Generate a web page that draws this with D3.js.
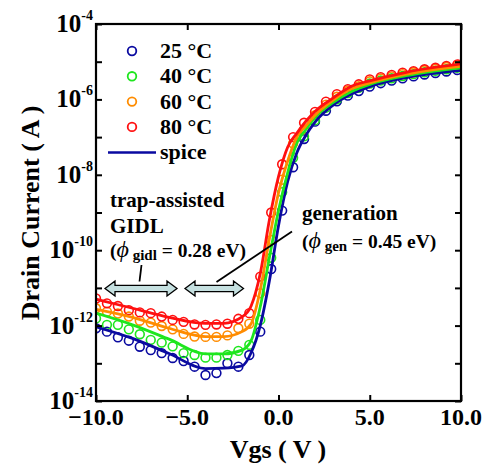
<!DOCTYPE html>
<html><head><meta charset="utf-8">
<script src="https://cdn.jsdelivr.net/npm/d3@7"></script>
<style>body{margin:0;background:#fff}svg{display:block}text{font-family:"Liberation Serif","Times New Roman",serif;font-weight:bold;fill:#000}</style>
</head><body>
<script>
// ---- data (log10 of drain current, A) ----
const vgs = [-10,-9.4,-8.8,-8.2,-7.6,-7.0,-6.4,-5.8,-5.2,-4.6,-4.0,-3.4,-2.8,-2.2,-1.6,-1.0,-0.4,0.2,0.8,1.4,2.0,2.6,3.2,3.8,4.4,5.0,5.6,6.2,6.8,7.4,8.0,8.6,9.2,9.8];
const meas25 = [-12.07,-12.16,-12.31,-12.40,-12.56,-12.65,-12.73,-12.86,-12.94,-13.09,-13.31,-13.26,-13.00,-13.09,-12.78,-12.16,-10.50,-8.95,-7.80,-7.05,-6.59,-6.30,-6.05,-5.90,-5.78,-5.66,-5.57,-5.50,-5.44,-5.39,-5.34,-5.30,-5.26,-5.22];
const meas40 = [-11.81,-11.98,-11.98,-12.10,-12.23,-12.38,-12.45,-12.55,-12.73,-12.78,-12.85,-12.85,-12.78,-12.67,-12.51,-11.85,-10.20,-8.46,-7.55,-6.98,-6.55,-6.22,-6.00,-5.83,-5.69,-5.58,-5.50,-5.44,-5.38,-5.33,-5.28,-5.24,-5.20,-5.16];
const meas60 = [-11.54,-11.63,-11.68,-11.76,-11.87,-11.92,-12.01,-12.10,-12.22,-12.29,-12.30,-12.30,-12.26,-12.07,-11.95,-11.14,-9.73,-8.13,-7.17,-6.80,-6.42,-6.14,-5.93,-5.77,-5.65,-5.52,-5.45,-5.39,-5.33,-5.28,-5.23,-5.19,-5.14,-5.10];
const meas80 = [-11.28,-11.41,-11.48,-11.59,-11.65,-11.67,-11.76,-11.85,-11.90,-11.97,-11.98,-11.97,-11.95,-11.82,-11.67,-10.70,-9.00,-7.72,-7.00,-6.62,-6.33,-6.06,-5.86,-5.73,-5.60,-5.47,-5.41,-5.35,-5.29,-5.25,-5.20,-5.16,-5.11,-5.07];
const spiceV = [-10,-8,-6,-4,-3,-2,-1.5,-1,-0.5,0,0.5,1,1.5,2,3,4,5,7,10];
const spice25 = [-12.03,-12.34,-12.74,-13.14,-13.13,-13.07,-12.72,-12.00,-10.82,-9.35,-8.18,-7.42,-6.95,-6.60,-6.15,-5.86,-5.66,-5.42,-5.23];
const spice40 = [-11.67,-11.98,-12.36,-12.75,-12.75,-12.65,-12.40,-11.50,-10.20,-8.95,-7.95,-7.16,-6.80,-6.48,-6.08,-5.79,-5.60,-5.37,-5.16];
const spice60 = [-11.57,-11.78,-12.07,-12.29,-12.29,-12.16,-11.95,-11.05,-9.70,-8.48,-7.64,-7.00,-6.70,-6.42,-6.02,-5.72,-5.56,-5.33,-5.12];
const spice80 = [-11.30,-11.54,-11.78,-11.94,-11.94,-11.77,-11.48,-10.62,-9.20,-8.05,-7.27,-6.90,-6.58,-6.32,-5.96,-5.65,-5.51,-5.28,-5.06];
const seriesNames = ["25 °C","40 °C","60 °C","80 °C"];
const seriesColors = ["#0a0aa0","#1ee61e","#ff8c00","#ff1010"];
const xTicks = [-10,-5,0,5,10];
const yExps = [-4,-5,-6,-7,-8,-9,-10,-11,-12,-13,-14];
const yLabelExps = [-4,-6,-8,-10,-12,-14];

const W = 483, H = 466;
const svg = d3.select("body").append("svg").attr("width",W).attr("height",H);
const x = d3.scaleLinear().domain([-10,10]).range([96,461]);
const y = d3.scaleLog().domain([1e-14,1e-4]).range([401,24]);
const yl = e => y(Math.pow(10,e));

svg.append("clipPath").attr("id","clip").append("rect")
  .attr("x",96).attr("y",24).attr("width",365).attr("height",377);

const plot = svg.append("g").attr("clip-path","url(#clip)");
const meas = [meas25,meas40,meas60,meas80];
const spice = [spice25,spice40,spice60,spice80];
const line = d3.line().x(d=>x(d[0])).y(d=>yl(d[1])).curve(d3.curveMonotoneX);

meas.forEach((arr,i)=>{
  plot.append("g").selectAll("circle").data(vgs.map((v,j)=>[v,arr[j]])).join("circle")
    .attr("cx",d=>x(d[0])).attr("cy",d=>yl(d[1])).attr("r",4.4)
    .attr("fill","none").attr("stroke",seriesColors[i]).attr("stroke-width",1.6);
});
spice.forEach((arr,i)=>{
  plot.append("path").datum(spiceV.map((v,j)=>[v,arr[j]]))
    .attr("d",line).attr("fill","none").attr("stroke",seriesColors[i]).attr("stroke-width",2.8);
});

// frame
svg.append("rect").attr("x",96).attr("y",24).attr("width",365).attr("height",377)
  .attr("fill","none").attr("stroke","#000").attr("stroke-width",2.2);

// axes
const axB = d3.axisBottom(x).tickValues(xTicks).tickSize(-6).tickFormat("");
svg.append("g").attr("transform","translate(0,401)").call(axB);
const axT = d3.axisTop(x).tickValues(xTicks).tickSize(-6).tickFormat("");
svg.append("g").attr("transform","translate(0,24)").call(axT);
const yTickVals = yExps.map(e=>Math.pow(10,e));
svg.append("g").attr("transform","translate(96,0)").call(d3.axisLeft(y).tickValues(yTickVals).tickSize(-6).tickFormat(""));
svg.append("g").attr("transform","translate(461,0)").call(d3.axisRight(y).tickValues(yTickVals).tickSize(-6).tickFormat(""));
svg.selectAll(".domain").remove();
svg.selectAll(".tick line").attr("stroke","#000").attr("stroke-width",2);

// tick labels
svg.append("g").selectAll("text").data(xTicks).join("text")
  .attr("x",d=>x(d)).attr("y",425).attr("text-anchor","middle").attr("font-size",24)
  .text(d=>d3.format(".1f")(d));
const yLab = svg.append("g").selectAll("text").data(yLabelExps).join("text")
  .attr("x",93).attr("y",d=>yl(d)+8).attr("text-anchor","end").attr("font-size",25);
yLab.append("tspan").text("10");
yLab.append("tspan").attr("font-size",14).attr("dy",-12).text(d=>d);

// axis titles
svg.append("text").attr("x",278).attr("y",458).attr("text-anchor","middle").attr("font-size",26).text("Vgs ( V )");
svg.append("text").attr("transform","translate(39,213) rotate(-90)").attr("text-anchor","middle").attr("font-size",26).text("Drain Current ( A )");

// legend
const leg = svg.append("g");
seriesNames.forEach((n,i)=>{
  const yy = 51 + i*25.3;
  leg.append("circle").attr("cx",132).attr("cy",yy).attr("r",4.3).attr("fill","none")
    .attr("stroke",seriesColors[i]).attr("stroke-width",1.8);
  leg.append("text").attr("x",160).attr("y",yy+7).attr("font-size",22).text(n);
});
leg.append("line").attr("x1",108).attr("x2",156).attr("y1",152.5).attr("y2",152.5)
  .attr("stroke",seriesColors[0]).attr("stroke-width",2.6);
leg.append("text").attr("x",160).attr("y",159).attr("font-size",22).text("spice");

// annotations
const ann = svg.append("g");
ann.append("text").attr("x",110).attr("y",207).attr("font-size",21).text("trap-assisted");
ann.append("text").attr("x",110).attr("y",233).attr("font-size",21).text("GIDL");
const t1 = ann.append("text").attr("x",110).attr("y",257).attr("font-size",19.5);
t1.append("tspan").text("(");
t1.append("tspan").attr("font-style","italic").attr("font-size",24).attr("font-weight","normal").text("ϕ");
t1.append("tspan").attr("font-size",15).attr("dy",3).text(" gidl");
t1.append("tspan").attr("dy",-3).text(" = 0.28 eV)");
ann.append("text").attr("x",302).attr("y",220).attr("font-size",21).text("generation");
const t2 = ann.append("text").attr("x",302).attr("y",248).attr("font-size",19.5);
t2.append("tspan").text("(");
t2.append("tspan").attr("font-style","italic").attr("font-size",24).attr("font-weight","normal").text("ϕ");
t2.append("tspan").attr("font-size",15).attr("dy",3).text(" gen");
t2.append("tspan").attr("dy",-3).text(" = 0.45 eV)");

ann.append("line").attr("x1",141.5).attr("y1",265).attr("x2",139.5).attr("y2",281.5).attr("stroke","#000").attr("stroke-width",1.8);
ann.append("line").attr("x1",216.5).attr("y1",282).attr("x2",292).attr("y2",231.5).attr("stroke","#000").attr("stroke-width",1.8);

function dblArrow(x1,x2,cy){
  const bh=3.2, hh=7.5, hl=10;
  return `M${x1},${cy} L${x1+hl},${cy-hh} L${x1+hl},${cy-bh} L${x2-hl},${cy-bh} L${x2-hl},${cy-hh} L${x2},${cy} L${x2-hl},${cy+hh} L${x2-hl},${cy+bh} L${x1+hl},${cy+bh} L${x1+hl},${cy+hh} Z`;
}
ann.append("path").attr("d",dblArrow(105,177,288.5)).attr("fill","#c5e0e0").attr("stroke","#000").attr("stroke-width",1.3);
ann.append("path").attr("d",dblArrow(185,243.5,288.5)).attr("fill","#c5e0e0").attr("stroke","#000").attr("stroke-width",1.3);
</script>
</body></html>
